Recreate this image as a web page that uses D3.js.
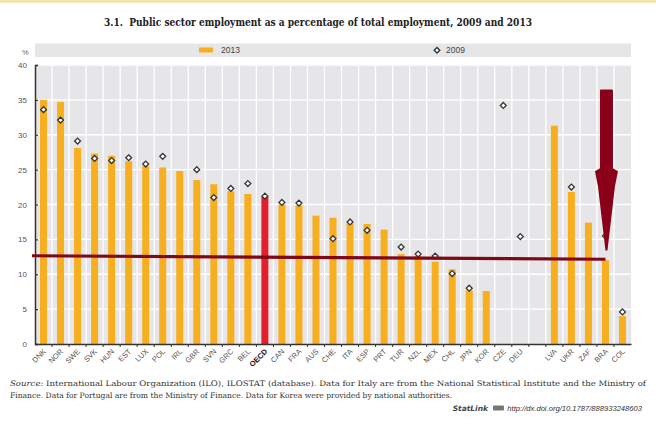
<!DOCTYPE html>
<html><head><meta charset="utf-8">
<script src="https://cdn.jsdelivr.net/npm/d3@7"></script>
<style>
html,body{margin:0;padding:0;background:#fff;}
svg{display:block;}
</style></head>
<body>
<svg id="c" width="656" height="424"></svg>
<script>
// ---- data ----
const categories = ["DNK","NOR","SWE","SVK","HUN","EST","LUX","POL","IRL","GBR","SVN","GRC","BEL","OECD","CAN","FRA","AUS","CHE","ITA","ESP","PRT","TUR","NZL","MEX","CHL","JPN","KOR","CZE","DEU"," ","LVA","UKR","ZAF","BRA","COL"];
const values2013 = [35.0,34.7,28.1,27.3,27.0,26.2,25.5,25.3,24.8,23.5,22.9,21.9,21.5,21.1,20.0,19.9,18.4,18.1,17.3,17.2,16.4,12.9,12.6,11.8,10.7,7.7,7.6,null,null,null,31.3,21.8,17.4,12.0,4.0];
const values2009 = [33.6,32.1,29.1,26.6,26.3,26.7,25.8,26.9,null,25.0,21.0,22.3,23.0,21.2,20.3,20.2,null,15.1,17.5,16.3,null,13.9,12.9,12.6,10.1,8.0,null,34.2,15.4,null,null,22.5,null,15.5,4.6];
const yTicks = [0,5,10,15,20,25,30,35,40];
const legendLabels = ["2013","2009"];
const titleText = "3.1.  Public sector employment as a percentage of total employment, 2009 and 2013";
const sourceLines = [
  ["Source:", " International Labour Organization (ILO), ILOSTAT (database). Data for Italy are from the National Statistical Institute and the Ministry of"],
  ["", "Finance. Data for Portugal are from the Ministry of Finance. Data for Korea were provided by national authorities."]
];
const statlinkUrl = "http://dx.doi.org/10.1787/888933248603";
// annotation (hand-drawn line & arrow), in data units
const refLine = {from: 12.65, to: 12.15, end: "BRA"};
const arrow = {cat: "BRA", top: 36.5, headStart: 25.2, tip: 13.4};

// ---- layout ----
const svg = d3.select("#c");
const L = 35, R = 631, T = 65, B = 344;
const x = d3.scaleBand().domain(categories).range([L, R]);
const y = d3.scaleLinear().domain([0, 40]).range([B, T]);
const bw = 7;
const cx = c => x(c) + x.bandwidth() / 2;

const bar = "#f7ae1f", oecdBar = "#e2202b", bg = "#e6e6e8", dark = "#7e0816";

// top strip
svg.append("rect").attr("x",0).attr("y",0).attr("width",656).attr("height",3).attr("fill","#f4e4b4");

// title
svg.append("text").attr("x", 318).attr("y", 26).attr("text-anchor","middle")
  .attr("font-family","'DejaVu Serif', serif").attr("font-weight","bold").attr("font-size",11.2)
  .attr("fill","#222").attr("textLength",428).attr("lengthAdjust","spacingAndGlyphs")
  .style("white-space","pre").text(titleText);

// legend band
svg.append("rect").attr("x",L).attr("y",43.5).attr("width",R-L).attr("height",13.5).attr("fill",bg);
svg.append("rect").attr("x",199).attr("y",47.5).attr("width",14).attr("height",5).attr("fill",bar);
svg.append("text").attr("x",221).attr("y",53.2).attr("font-family","'Liberation Sans Narrow','Liberation Sans',sans-serif")
  .attr("font-size",8.5).attr("fill","#444").text(legendLabels[0]);
svg.append("path").attr("d", d3.symbol(d3.symbolDiamond2, 20)()).attr("transform","translate(437,50.2)")
  .attr("fill","#fff").attr("stroke","#333").attr("stroke-width",1.4);
svg.append("text").attr("x",446).attr("y",53.2).attr("font-family","'Liberation Sans Narrow','Liberation Sans',sans-serif")
  .attr("font-size",8.5).attr("fill","#444").text(legendLabels[1]);

// % label
svg.append("text").attr("x",22).attr("y",55).attr("font-family","'Liberation Sans Narrow','Liberation Sans',sans-serif")
  .attr("font-size",7.5).attr("fill","#666").text("%");

// plot background
svg.append("rect").attr("x",L).attr("y",T).attr("width",R-L).attr("height",B-T).attr("fill",bg);
// grid
svg.append("g").selectAll("line").data(yTicks.slice(1)).join("line")
  .attr("x1",L).attr("x2",R).attr("y1",d=>y(d)).attr("y2",d=>y(d)).attr("stroke","#fff").attr("stroke-width",1.3);
svg.append("g").selectAll("line").data(categories.slice(1)).join("line")
  .attr("x1",d=>x(d)).attr("x2",d=>x(d)).attr("y1",T).attr("y2",B).attr("stroke","#fff").attr("stroke-width",1.3);

// bars
svg.append("g").selectAll("rect").data(categories.map((c,i)=>({c, v: values2013[i]})).filter(d=>d.v!=null)).join("rect")
  .attr("x", d=>cx(d.c)-bw/2).attr("width", bw)
  .attr("y", d=>y(d.v)).attr("height", d=>B - y(d.v))
  .attr("fill", d=>d.c==="OECD"?oecdBar:bar);

// y axis
const yAxis = svg.append("g").attr("transform",`translate(${L},0)`)
  .call(d3.axisLeft(y).tickValues(yTicks).tickSize(-3).tickPadding(8));
yAxis.select(".domain").attr("stroke","#333").attr("stroke-width",1.5);
yAxis.selectAll(".tick line").attr("stroke","#333").attr("stroke-width",1.2);
yAxis.selectAll(".tick text").attr("font-family","'Liberation Sans Narrow','Liberation Sans',sans-serif")
  .attr("font-size",8).attr("fill","#555");

// x axis
const xAxis = svg.append("g").attr("transform",`translate(0,${B})`)
  .call(d3.axisBottom(x).tickSize(0).tickFormat(""));
xAxis.select(".domain").attr("stroke","#333").attr("stroke-width",1.6);
svg.append("g").selectAll("line").data(categories.slice(1)).join("line")
  .attr("x1",d=>x(d)).attr("x2",d=>x(d)).attr("y1",B).attr("y2",B+3).attr("stroke","#333").attr("stroke-width",1);
svg.append("g").selectAll("text").data(categories.filter(c=>c.trim()!=="")).join("text")
  .attr("transform", d=>`translate(${cx(d)+3},${B+8}) rotate(-45)`)
  .attr("text-anchor","end")
  .attr("font-family","'Liberation Sans Narrow','Liberation Sans',sans-serif")
  .attr("font-size",7.5)
  .attr("font-weight", d=>d==="OECD"?"bold":"normal")
  .attr("fill", d=>d==="OECD"?"#111":"#555")
  .text(d=>d);

// diamonds (2009)
svg.append("g").selectAll("path").data(categories.map((c,i)=>({c, v: values2009[i]})).filter(d=>d.v!=null)).join("path")
  .attr("d", d3.symbol(d3.symbolDiamond2, 22)())
  .attr("transform", d=>`translate(${cx(d.c)},${y(d.v)})`)
  .attr("fill","#fff").attr("stroke","#333").attr("stroke-width",1.3);

// annotation line
svg.append("line").attr("x1",L-3).attr("x2",cx(refLine.end)).attr("y1",y(refLine.from)).attr("y2",y(refLine.to))
  .attr("stroke",dark).attr("stroke-width",3.2);

// annotation arrow
const ax = cx(arrow.cat) + 1, sw = 6.5, hw = 11.5;
const yTop = y(arrow.top), yHead = y(arrow.headStart), yTip = y(arrow.tip);
svg.append("path").attr("d",
  `M${ax-sw+1},${yTop} L${ax+sw-1},${yTop} Q${ax+sw},${yTop} ${ax+sw},${yTop+1} L${ax+sw},${yHead} ` +
  `L${ax+hw},${yHead+3} Q${ax+hw-1},${yHead+8} ${ax+hw-3},${yHead+18} L${ax+1},${yTip} L${ax-1},${yTip} ` +
  `L${ax-hw+3},${yHead+18} Q${ax-hw+1},${yHead+8} ${ax-hw},${yHead+3} L${ax-sw},${yHead} L${ax-sw},${yTop+1} Q${ax-sw},${yTop} ${ax-sw+1},${yTop} Z`)
  .attr("fill","#8a0018");

// source
const src = svg.append("g").attr("font-family","'DejaVu Serif', serif").attr("font-size",7.6).attr("fill","#333");
sourceLines.forEach((ln,i)=>{
  const t = src.append("text").attr("x",10).attr("y",386 + i*12).style("white-space","pre");
  if (ln[0]) t.append("tspan").attr("font-style","italic").text(ln[0]);
  t.append("tspan").text(ln[1]);
  if (i===0) t.attr("textLength",636).attr("lengthAdjust","spacingAndGlyphs");
});
// statlink
const sl = svg.append("g");
sl.append("text").attr("x",488).attr("y",411).attr("text-anchor","end")
  .attr("font-family","'DejaVu Sans',sans-serif").attr("font-weight","bold").attr("font-style","italic")
  .attr("font-size",7.5).attr("fill","#444").text("StatLink");
sl.append("rect").attr("x",493).attr("y",405.5).attr("width",11).attr("height",5).attr("fill","#777").attr("rx",1);
sl.append("text").attr("x",642).attr("y",411).attr("text-anchor","end")
  .attr("font-family","'Liberation Sans',sans-serif").attr("font-style","italic")
  .attr("font-size",7.6).attr("fill","#333").text(statlinkUrl);
</script>
</body></html>
